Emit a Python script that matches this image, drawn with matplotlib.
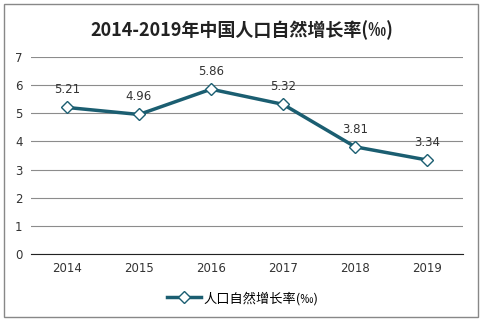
import matplotlib.pyplot as plt
from matplotlib.patches import Rectangle

plt.rcParams['font.family'] = ['Noto Sans CJK SC', 'DejaVu Sans']

years = ["2014", "2015", "2016", "2017", "2018", "2019"]
rates = [5.21, 4.96, 5.86, 5.32, 3.81, 3.34]
label = "人口自然增长率(‰)"
title = "2014-2019年中国人口自然增长率(‰)"

line_color = "#1b5e71"

fig = plt.figure(figsize=(4.83, 3.21), dpi=100)
ax = fig.add_axes([0.064, 0.209, 0.895, 0.613])

x = list(range(len(years)))
ax.plot(x, rates, color=line_color, linewidth=2.5, marker="D", markersize=6,
        markerfacecolor="white", markeredgecolor=line_color, markeredgewidth=1,
        label=label, zorder=3)
for xi, v in zip(x, rates):
    ax.annotate(f"{v:.2f}", (xi, v), xytext=(0, 8), textcoords="offset points",
                ha="center", va="bottom", fontsize=8.5, color="#333333",
                family=["DejaVu Sans"])

ax.set_xlim(-0.5, len(years) - 0.5)
ax.set_ylim(0, 7)
ax.set_yticks(range(0, 8))
ax.set_xticks(x)
ax.set_xticklabels(years)
ax.grid(axis="y", color="#8c8c8c", linewidth=0.8)
ax.set_axisbelow(True)
for s in ["top", "right", "left"]:
    ax.spines[s].set_visible(False)
ax.spines["bottom"].set_color("#222222")
ax.tick_params(length=0, labelsize=8.5, colors="#333333", pad=6)
for t in ax.get_xticklabels() + ax.get_yticklabels():
    t.set_family(["DejaVu Sans"])

fig.text(0.5, 0.905, title, ha="center", va="center", fontsize=13,
         fontweight="bold", color="#222222")

ax.legend(loc="upper center", bbox_to_anchor=(0.49, -0.13), frameon=False,
          fontsize=9.5, handlelength=2.6, handletextpad=0.2)

fig.patches.append(Rectangle((4 / 483, 4 / 321), 474 / 483, 313 / 321,
                             transform=fig.transFigure, fill=False,
                             edgecolor="#888888", linewidth=1))

fig.savefig("out.png", dpi=100)
